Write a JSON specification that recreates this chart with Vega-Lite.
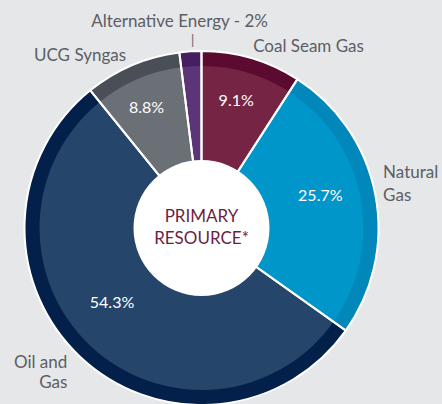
{
  "$schema": "https://vega.github.io/schema/vega-lite/v6.json",
  "width": 403,
  "height": 352,
  "autosize": {"type": "none"},
  "padding": {"left": 0, "right": 39, "top": 52, "bottom": 0},
  "background": "#e6e7e8",
  "config": {"view": {"stroke": null}, "text": {"font": "Lato"}},
  "datasets": {
    "slices": [
      {"category": "Coal Seam Gas", "label": "Coal Seam Gas", "pct": "9.1%", "value": 9.1, "rank": 1},
      {"category": "Natural Gas", "label": "Natural\nGas", "pct": "25.7%", "value": 25.7, "rank": 2},
      {"category": "Oil and Gas", "label": "Oil and\nGas", "pct": "54.3%", "value": 54.3, "rank": 3},
      {"category": "UCG Syngas", "label": "UCG Syngas", "pct": "8.8%", "value": 8.8, "rank": 4},
      {"category": "Alternative Energy", "label": "Alternative Energy - 2%", "pct": "2%", "value": 2, "rank": 5}
    ],
    "center": [{"title": "PRIMARY\nRESOURCE*"}]
  },
  "data": {"name": "slices"},
  "layer": [
    {
      "mark": {"type": "arc", "outerRadius": 177, "innerRadius": 0},
      "encoding": {
        "theta": {"field": "value", "type": "quantitative", "stack": true},
        "order": {"field": "rank", "type": "quantitative"},
        "color": {
          "field": "category", "type": "nominal", "legend": null,
          "scale": {
            "domain": ["Coal Seam Gas", "Natural Gas", "Oil and Gas", "UCG Syngas", "Alternative Energy"],
            "range": ["#5a0b2f", "#0187b9", "#03204a", "#4a4e56", "#451f5f"]
          }
        }
      }
    },
    {
      "mark": {"type": "arc", "outerRadius": 162, "innerRadius": 0},
      "encoding": {
        "theta": {"field": "value", "type": "quantitative", "stack": true},
        "order": {"field": "rank", "type": "quantitative"},
        "color": {
          "field": "category", "type": "nominal", "legend": null,
          "scale": {
            "domain": ["Coal Seam Gas", "Natural Gas", "Oil and Gas", "UCG Syngas", "Alternative Energy"],
            "range": ["#762443", "#0096c9", "#26456b", "#6b6f76", "#5b3576"]
          }
        }
      }
    },
    {
      "mark": {"type": "arc", "outerRadius": 177, "innerRadius": 0, "fillOpacity": 0, "stroke": "white", "strokeWidth": 2},
      "encoding": {
        "theta": {"field": "value", "type": "quantitative", "stack": true},
        "order": {"field": "rank", "type": "quantitative"},
        "detail": {"field": "category"}
      }
    },
    {
      "data": {"name": "center"},
      "mark": {"type": "arc", "outerRadius": 68, "innerRadius": 0, "theta": 0, "theta2": 6.2832, "fill": "white"},
      "encoding": {}
    },
    {
      "data": {"name": "center"},
      "mark": {"type": "text", "lineBreak": "\n", "fontSize": 17, "lineHeight": 22, "color": "#6d1f3f", "align": "center", "baseline": "middle", "dy": -11},
      "encoding": {"text": {"field": "title"}}
    },
    {
      "mark": {"type": "text", "radius": 130, "fontSize": 16, "color": "white", "align": "center", "baseline": "middle", "dx": -2, "dy": -2},
      "encoding": {
        "theta": {"field": "value", "type": "quantitative", "stack": true},
        "order": {"field": "rank", "type": "quantitative"},
        "detail": {"field": "category"},
        "text": {"condition": {"test": "datum.category === 'Coal Seam Gas'", "field": "pct"}, "value": ""}
      }
    },
    {
      "mark": {"type": "text", "radius": 122, "fontSize": 16, "color": "white", "align": "center", "baseline": "middle", "dx": -1, "dy": -9},
      "encoding": {
        "theta": {"field": "value", "type": "quantitative", "stack": true},
        "order": {"field": "rank", "type": "quantitative"},
        "detail": {"field": "category"},
        "text": {"condition": {"test": "datum.category === 'Natural Gas'", "field": "pct"}, "value": ""}
      }
    },
    {
      "mark": {"type": "text", "radius": 116, "fontSize": 16, "color": "white", "align": "center", "baseline": "middle", "dx": -10, "dy": -10},
      "encoding": {
        "theta": {"field": "value", "type": "quantitative", "stack": true},
        "order": {"field": "rank", "type": "quantitative"},
        "detail": {"field": "category"},
        "text": {"condition": {"test": "datum.category === 'Oil and Gas'", "field": "pct"}, "value": ""}
      }
    },
    {
      "mark": {"type": "text", "radius": 130, "fontSize": 16, "color": "white", "align": "center", "baseline": "middle", "dx": -4, "dy": 0},
      "encoding": {
        "theta": {"field": "value", "type": "quantitative", "stack": true},
        "order": {"field": "rank", "type": "quantitative"},
        "detail": {"field": "category"},
        "text": {"condition": {"test": "datum.category === 'UCG Syngas'", "field": "pct"}, "value": ""}
      }
    },
    {
      "mark": {"type": "text", "radius": 190, "fontSize": 17, "color": "#5b5e66", "align": "left", "baseline": "middle", "dx": -2, "dy": 1},
      "encoding": {
        "theta": {"field": "value", "type": "quantitative", "stack": true},
        "order": {"field": "rank", "type": "quantitative"},
        "detail": {"field": "category"},
        "text": {"condition": {"test": "datum.category === 'Coal Seam Gas'", "field": "label"}, "value": ""}
      }
    },
    {
      "mark": {"type": "text", "radius": 190, "fontSize": 17, "lineBreak": "\n", "lineHeight": 23, "color": "#5b5e66", "align": "left", "baseline": "middle", "dx": -5, "dy": -19},
      "encoding": {
        "theta": {"field": "value", "type": "quantitative", "stack": true},
        "order": {"field": "rank", "type": "quantitative"},
        "detail": {"field": "category"},
        "text": {"condition": {"test": "datum.category === 'Natural Gas'", "field": "label"}, "value": ""}
      }
    },
    {
      "mark": {"type": "text", "radius": 190, "fontSize": 17, "lineBreak": "\n", "lineHeight": 20, "color": "#5b5e66", "align": "right", "baseline": "middle", "dx": -4, "dy": -3},
      "encoding": {
        "theta": {"field": "value", "type": "quantitative", "stack": true},
        "order": {"field": "rank", "type": "quantitative"},
        "detail": {"field": "category"},
        "text": {"condition": {"test": "datum.category === 'Oil and Gas'", "field": "label"}, "value": ""}
      }
    },
    {
      "mark": {"type": "text", "radius": 190, "fontSize": 17, "color": "#5b5e66", "align": "right", "baseline": "middle", "dx": -1, "dy": 3},
      "encoding": {
        "theta": {"field": "value", "type": "quantitative", "stack": true},
        "order": {"field": "rank", "type": "quantitative"},
        "detail": {"field": "category"},
        "text": {"condition": {"test": "datum.category === 'UCG Syngas'", "field": "label"}, "value": ""}
      }
    },
    {
      "mark": {"type": "text", "radius": 205, "fontSize": 17, "color": "#5b5e66", "align": "center", "baseline": "middle", "dx": -9, "dy": -1},
      "encoding": {
        "theta": {"field": "value", "type": "quantitative", "stack": true},
        "order": {"field": "rank", "type": "quantitative"},
        "detail": {"field": "category"},
        "text": {"condition": {"test": "datum.category === 'Alternative Energy'", "field": "label"}, "value": ""}
      }
    },
    {
      "mark": {"type": "text", "radius": 187, "fontSize": 13, "color": "#5b5e66", "align": "center", "baseline": "middle", "dx": 3, "dy": 0},
      "encoding": {
        "theta": {"field": "value", "type": "quantitative", "stack": true},
        "order": {"field": "rank", "type": "quantitative"},
        "detail": {"field": "category"},
        "text": {"condition": {"test": "datum.category === 'Alternative Energy'", "value": "|"}, "value": ""}
      }
    }
  ],
  "resolve": {"scale": {"color": "independent"}}
}
